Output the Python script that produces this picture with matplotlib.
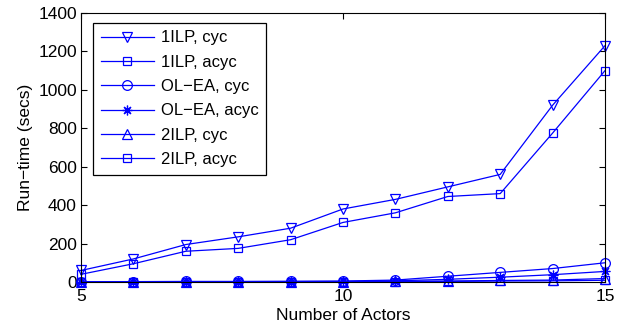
import matplotlib
matplotlib.use("Agg")
import matplotlib.pyplot as plt

plt.rcParams['font.family'] = ['Liberation Sans', 'DejaVu Sans']

actors = [5, 6, 7, 8, 9, 10, 11, 12, 13, 14, 15]
ilp1_cyc = [60, 120, 195, 235, 280, 380, 430, 495, 560, 920, 1230]
ilp1_acyc = [40, 95, 160, 175, 220, 310, 360, 445, 460, 775, 1100]
olea_cyc = [2, 2, 3, 3, 4, 5, 10, 30, 50, 70, 100]
olea_acyc = [1, 1, 1, 2, 2, 3, 6, 14, 25, 38, 55]
ilp2_cyc = [0.5, 0.5, 1, 1, 1, 2, 3, 5, 8, 10, 18]
ilp2_acyc = [0.3, 0.3, 0.5, 0.5, 1, 1, 2, 3, 5, 6, 9]

series = [
    (ilp1_cyc, 'v', 7, '1ILP, cyc'),
    (ilp1_acyc, 's', 6, '1ILP, acyc'),
    (olea_cyc, 'o', 7, 'OL\u2212EA, cyc'),
    (olea_acyc, (8, 2, 0), 7, 'OL\u2212EA, acyc'),
    (ilp2_cyc, '^', 7, '2ILP, cyc'),
    (ilp2_acyc, 's', 6, '2ILP, acyc'),
]

fig = plt.figure(figsize=(6.23, 3.31), dpi=100)
ax = fig.add_axes([81 / 623, 49 / 331, 524 / 623, 269 / 331])

for vals, mk, ms, lab in series:
    ax.plot(actors, vals, color='#0000ff', lw=0.9, marker=mk, markersize=ms,
            markerfacecolor='none', markeredgecolor='#0000ff', markeredgewidth=0.9,
            label=lab, clip_on=False)

ax.set_xlim(5, 15)
ax.set_ylim(0, 1400)
ax.set_xticks([5, 10, 15])
ax.set_yticks(range(0, 1401, 200))
ax.tick_params(direction='in', top=True, right=True, labelsize=12.5, length=4, pad=3)
ax.tick_params(axis='x', pad=5)
ax.set_xlabel('Number of Actors', fontsize=12.5, labelpad=3)
ax.set_ylabel('Run\u2212time (secs)', fontsize=12.5, labelpad=4)

leg = ax.legend(loc='upper left', bbox_to_anchor=(0.023, 0.963), fontsize=12,
                fancybox=False, edgecolor='black', framealpha=1,
                handlelength=3.2, handletextpad=0.4, labelspacing=0.56,
                borderpad=0.45, borderaxespad=0)
leg.get_frame().set_linewidth(0.9)

fig.savefig('out.png', dpi=100)
